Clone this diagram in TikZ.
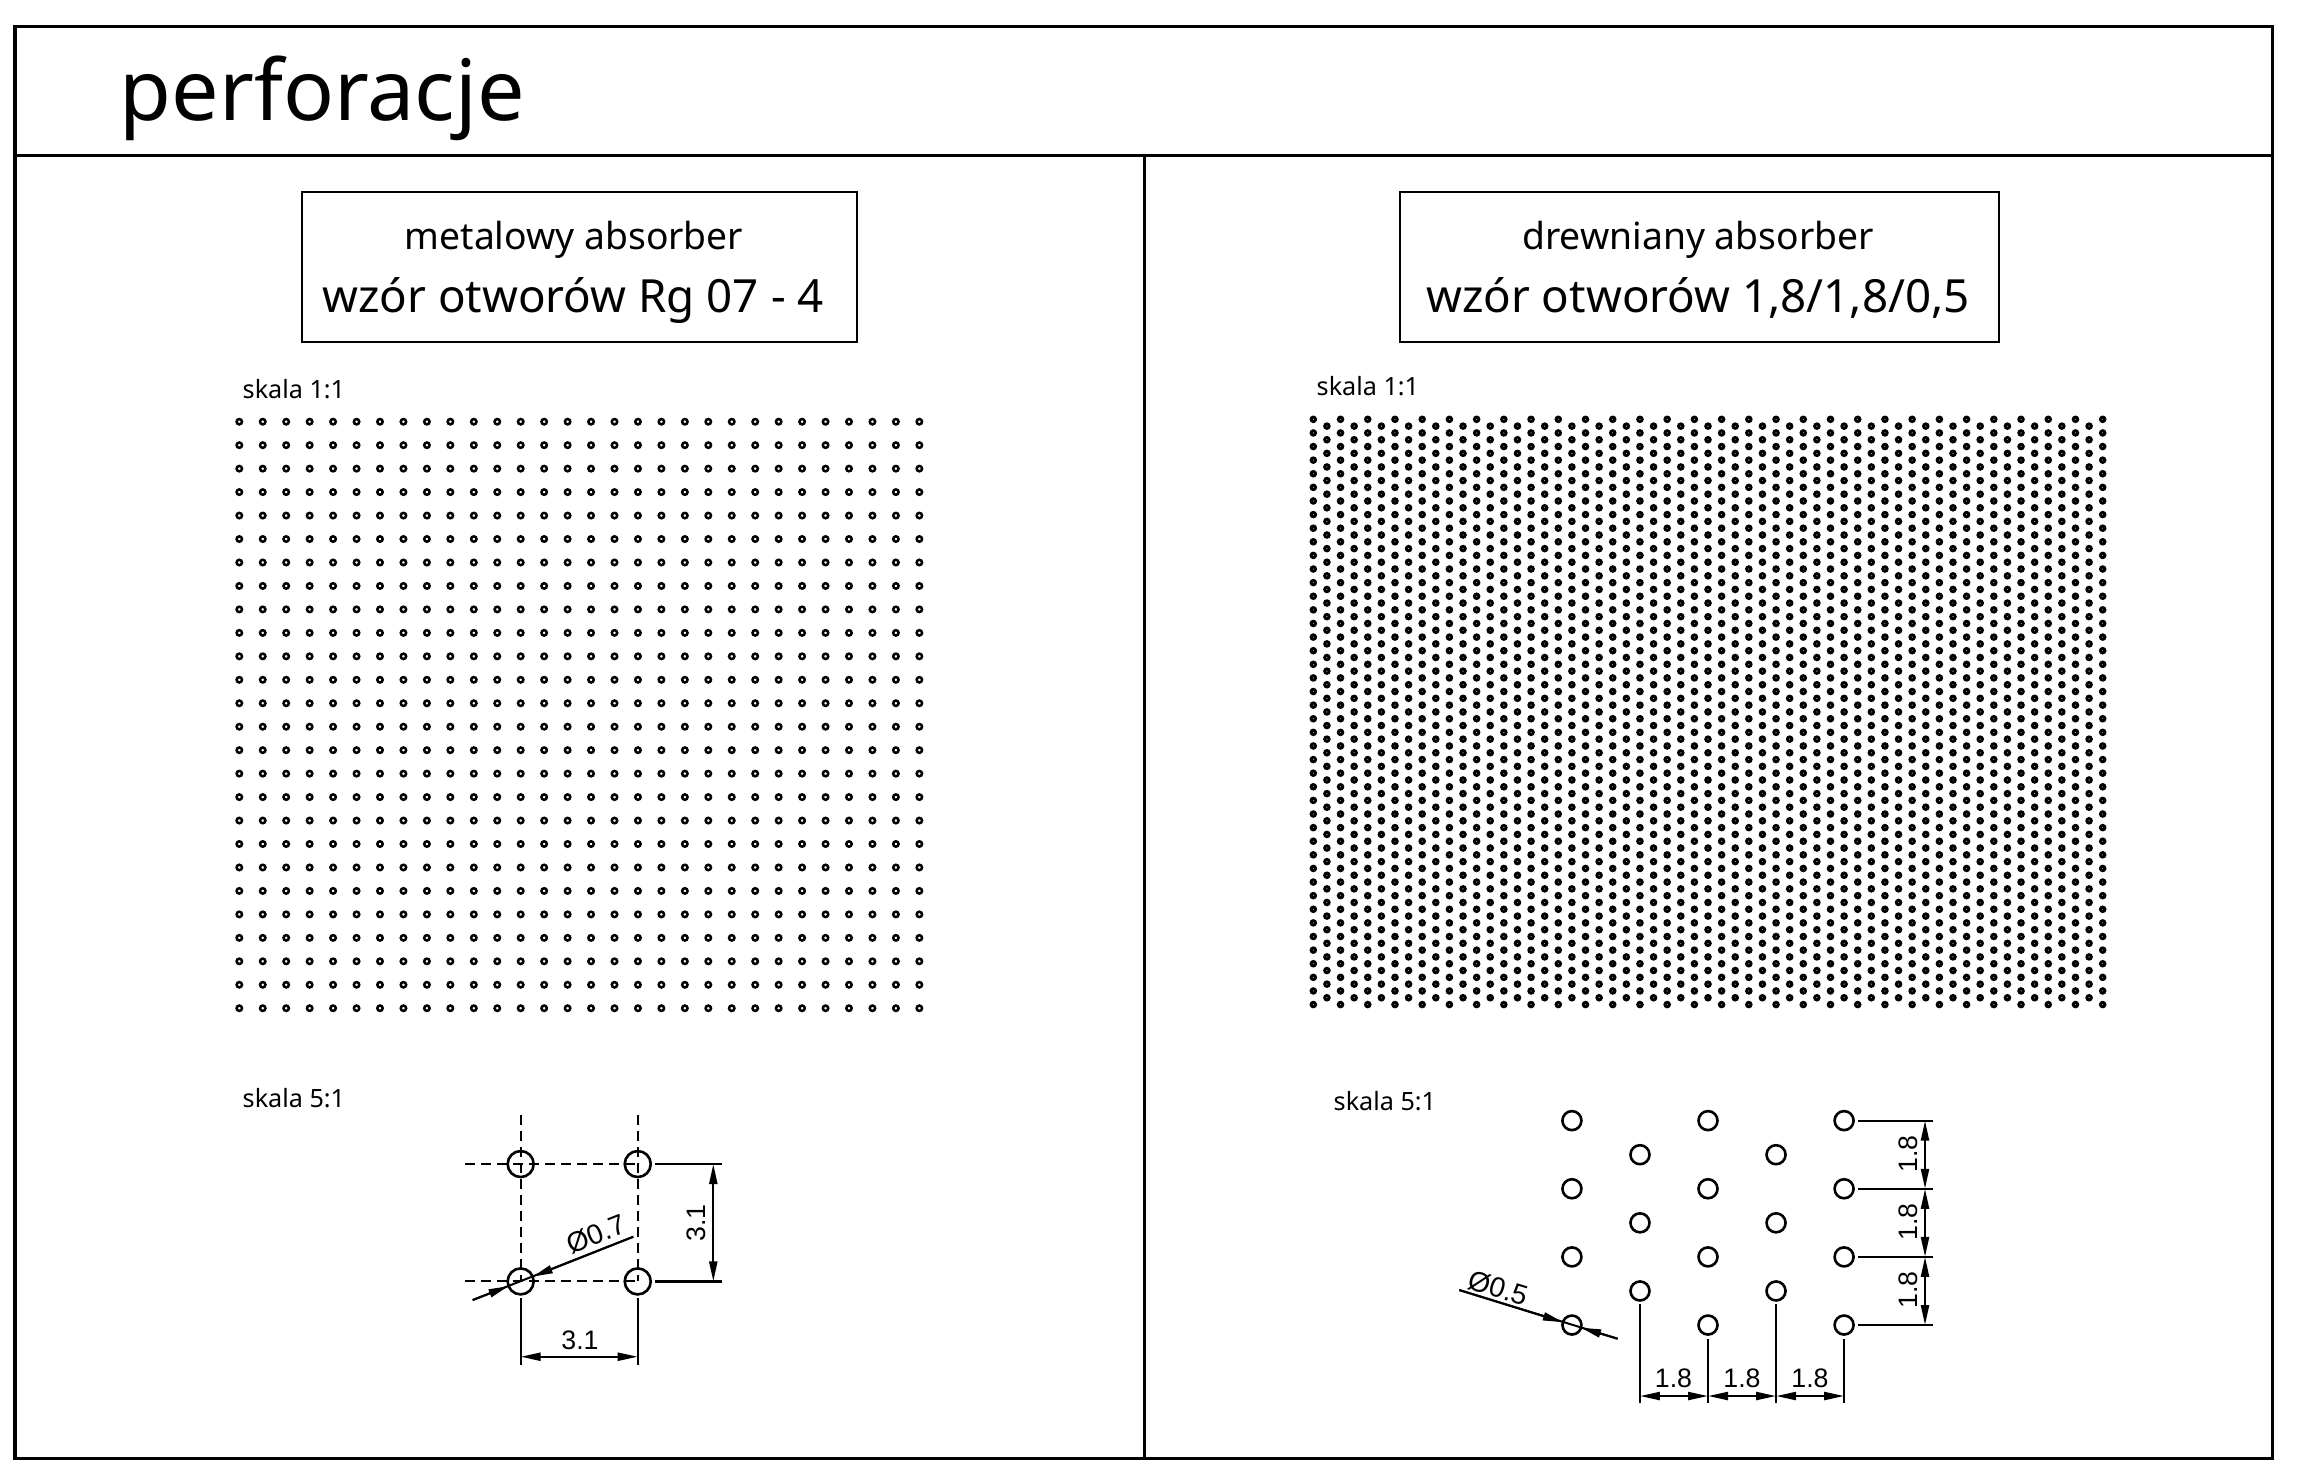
\documentclass[tikz,border=0pt]{standalone}
\usepackage{fontspec}
\setmainfont{Noto Sans}
\newfontfamily\dimfont{Liberation Sans}
\usetikzlibrary{matrix,arrows.meta}
\tikzset{
  frameline/.style={line width=0.03cm},
  hole/.style={circle,draw,line width=0.026cm,inner sep=0mm,outer sep=0mm},
  axisline/.style={line width=0.02cm,dash pattern=on 0.1cm off 0.06cm},
  dimline/.style={line width=0.022cm,shorten <=0.04cm},
  dimarrow/.style={line width=0.022cm,<->},
  leader/.style={line width=0.02cm},
  dimtext/.style={font=\dimfont\fontsize{7.6}{9}\selectfont,inner sep=0mm},
  scaletext/.style={font=\fontsize{7.16}{9}\selectfont,inner sep=0mm,anchor=base west},
  titlebox/.style={draw,line width=0.02cm,inner sep=0mm,minimum height=1.5cm},
  headlow/.style={font=\fontsize{10.6}{13}\selectfont,inner sep=0mm,anchor=base},
  headbig/.style={font=\fontsize{13}{16}\selectfont,inner sep=0mm,anchor=base},
}
\begin{document}
\begin{tikzpicture}[x=0.01cm,y=-0.01cm,>={Stealth[length=0.2cm,width=0.08cm,inset=0pt]}]
\useasboundingbox (0,0) rectangle (2297,1465);
% frame
\draw[frameline] (15,26) rectangle (2272,1458);
\draw[frameline] (15,155) -- (2272,155);
\draw[frameline] (1144,155) -- (1144,1458);
\node[inner sep=0mm,anchor=base west,font=\fontsize{24}{30}\selectfont] (title) at (119,120) {perforacje};
% heads
\node[titlebox,minimum width=5.55cm] (boxL) at (579.3,266.7) {};
\node[titlebox,minimum width=5.985cm] (boxR) at (1699.2,266.7) {};
\node[headlow] (headLa) at (574,249) {metalowy absorber};
\node[headbig] (headLb) at (573,312.5) {wzór otworów Rg 07 - 4};
\node[headlow] (headRa) at (1698,249) {drewniany absorber};
\node[headbig] (headRb) at (1698,312.5) {wzór otworów 1,8/1,8/0,5};
\node[scaletext] (scaleLa) at (242,398) {skala 1:1};
\node[scaletext] (scaleRa) at (1316,395) {skala 1:1};
\node[scaletext] (scaleLb) at (242,1107.5) {skala 5:1};
\node[scaletext] (scaleRb) at (1333,1110) {skala 5:1};
% 1:1 patterns
\foreach \i in {0,...,29}
  \foreach \j in {0,...,25}
    \draw[line width=0.025cm] (239.3+23.45*\i,421.7+23.46*\j) circle [radius=0.027cm];
\foreach \i in {0,2,...,58}
  \foreach \j in {0,...,43}
    \draw[line width=0.03cm] (1313.3+13.61*\i,419.3+13.61*\j) circle [radius=0.022cm];
\foreach \i in {1,3,...,57}
  \foreach \j in {0,...,42}
    \draw[line width=0.03cm] (1313.3+13.61*\i,426.1+13.61*\j) circle [radius=0.022cm];
% 5:1 left
\matrix at (579.2,1222.7) [matrix of nodes, column sep={1.17cm,between origins}, row sep={1.173cm,between origins},nodes={hole,minimum size=0.26cm}]
{
|(M1)| {} & |(M2)| {} \\
|(N1)| {} & |(N2)| {} \\
};
\coordinate (axisT) at (579,1115);
\coordinate (axisL) at (465,1222);
\coordinate (leadA) at (633.3,1236.7);
\coordinate (leadB) at (472.7,1300);
\coordinate (dimR) at (713.3,1222);
\coordinate (endR) at (721.7,1222);
\coordinate (dimB) at (579,1356.7);
\coordinate (endB) at (579,1365);
\draw[axisline] (axisT -| M1) -- (N1.center);
\draw[axisline] (axisT -| M2) -- (N2.center);
\draw[axisline] (axisL |- M1) -- (M2.center);
\draw[axisline] (axisL |- N1) -- (N2.center);
\draw[dimline] (M2) -- (endR |- M2);
\draw[dimline] (N2) -- (endR |- N2);
\draw[dimline] (N1) -- (endB -| N1);
\draw[dimline] (N2) -- (endB -| N2);
\draw[dimarrow] (dimR |- M2) -- (dimR |- N2);
\draw[dimarrow] (dimB -| N1) -- (dimB -| N2);
\draw[leader] (leadA) -- (leadB);
\draw[leader,->] (leadA) -- (N1);
\draw[leader,->] (leadB) -- (N1);
\node[dimtext,rotate=90] (dimLa) at (696.7,1223) {3.1};
\node[dimtext] (dimLb) at (580,1340) {3.1};
\node[dimtext,rotate=21.5,font=\dimfont\fontsize{8}{9}\selectfont] (dimLc) at (596,1234) {Ø0.7};
% 5:1 right
\matrix at (1708,1222.8) [matrix of nodes, column sep={0.68cm,between origins}, row sep={0.3405cm,between origins},nodes={hole,minimum size=0.19cm}]
{
|(A1)| {} & & |(A3)| {} & & |(A5)| {} \\
& |(B2)| {} & & |(B4)| {} & \\
|(C1)| {} & & |(C3)| {} & & |(C5)| {} \\
& |(D2)| {} & & |(D4)| {} & \\
|(E1)| {} & & |(E3)| {} & & |(E5)| {} \\
& |(F2)| {} & & |(F4)| {} & \\
|(G1)| {} & & |(G3)| {} & & |(G5)| {} \\
};
\coordinate (ldA) at (1459.3,1290);
\coordinate (ldB) at (1617.7,1338.7);
\coordinate (stepR) at (1925,1222);
\coordinate (stopR) at (1932.7,1222);
\coordinate (stepB) at (1708,1396);
\coordinate (stopB) at (1708,1403.3);
\draw[dimline] (A5) -- (stopR |- A5);
\draw[dimline] (C5) -- (stopR |- C5);
\draw[dimline] (E5) -- (stopR |- E5);
\draw[dimline] (G5) -- (stopR |- G5);
\draw[dimline] (F2) -- (stopB -| F2);
\draw[dimline] (G3) -- (stopB -| G3);
\draw[dimline] (F4) -- (stopB -| F4);
\draw[dimline] (G5) -- (stopB -| G5);
\draw[dimarrow] (stepR |- A5) -- (stepR |- C5);
\draw[dimarrow] (stepR |- C5) -- (stepR |- E5);
\draw[dimarrow] (stepR |- E5) -- (stepR |- G5);
\draw[dimarrow] (stepB -| F2) -- (stepB -| G3);
\draw[dimarrow] (stepB -| G3) -- (stepB -| F4);
\draw[dimarrow] (stepB -| F4) -- (stepB -| G5);
\draw[leader] (ldA) -- (ldB);
\draw[leader,->] (ldA) -- (G1);
\draw[leader,->] (ldB) -- (G1);
\node[dimtext,rotate=90] (dimRa) at (1908.3,1154) {1.8};
\node[dimtext,rotate=90] (dimRb) at (1908.3,1221.7) {1.8};
\node[dimtext,rotate=90] (dimRc) at (1908.3,1290) {1.8};
\node[dimtext] (dimRd) at (1673.5,1378) {1.8};
\node[dimtext] (dimRe) at (1742,1378) {1.8};
\node[dimtext] (dimRf) at (1810,1378) {1.8};
\node[dimtext,rotate=-17,font=\dimfont\fontsize{8}{9}\selectfont] (dimRg) at (1498.3,1288) {Ø0.5};
\end{tikzpicture}
\end{document}
